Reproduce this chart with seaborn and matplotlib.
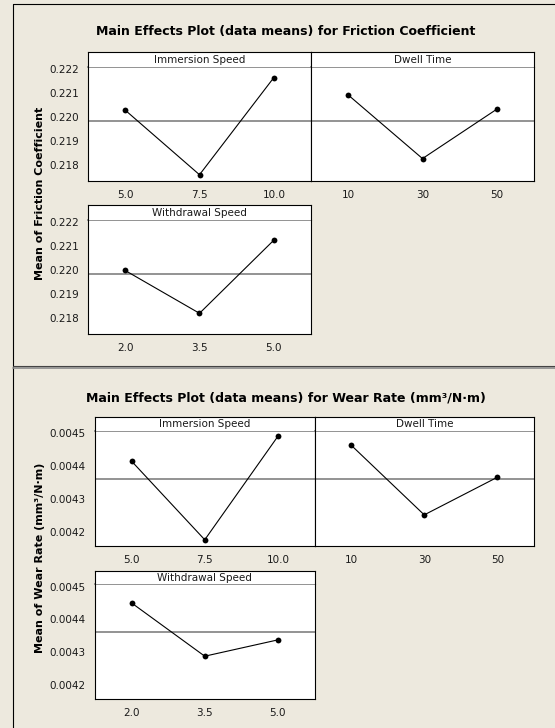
import matplotlib
matplotlib.use("Agg")
import matplotlib.pyplot as plt
from matplotlib.lines import Line2D
import numpy as np
import pandas as pd
import seaborn as sns

# Factor levels and their tick labels
immersion_levels = [5.0, 7.5, 10.0]
dwell_levels = [10, 30, 50]
withdrawal_levels = [2.0, 3.5, 5.0]
immersion_labels = ["5.0", "7.5", "10.0"]
dwell_labels = ["10", "30", "50"]
withdrawal_labels = ["2.0", "3.5", "5.0"]
factor_names = ["Immersion Speed", "Dwell Time", "Withdrawal Speed"]

# Mean friction coefficient at each level
friction_immersion = [0.22029, 0.21761, 0.22164]
friction_dwell = [0.22092, 0.21828, 0.22033]
friction_withdrawal = [0.21999, 0.21821, 0.22125]
friction_ticks = [0.218, 0.219, 0.220, 0.221, 0.222]

# Mean wear rate (mm³/N·m) at each level
wear_immersion = [0.004415, 0.004175, 0.004491]
wear_dwell = [0.004464, 0.004251, 0.004366]
wear_withdrawal = [0.004450, 0.004287, 0.004337]
wear_ticks = [0.0042, 0.0043, 0.0044, 0.0045]

sns.set_style("white")
plt.rcParams["font.family"] = ["DejaVu Sans"]

W, H = 555, 728
BG = "#EDE9DE"

fig = plt.figure(figsize=(W / 100, H / 100), dpi=100, facecolor=BG)


def rect(x0, y0, x1, y1):
    return [x0 / W, 1 - y1 / H, (x1 - x0) / W, (y1 - y0) / H]


def fline(xs, ys, color, lw):
    fig.add_artist(Line2D([x / W for x in xs], [1 - y / H for y in ys],
                          transform=fig.transFigure, color=color, lw=lw))


def panel(name, levels, labels, means, grand, xspan, yspan, ylim, ticks, fmt, show_y):
    x0, x1 = xspan
    s_top, s_bot, d_bot = yspan
    ax = fig.add_axes(rect(x0, s_bot, x1, d_bot))
    ax.set_facecolor("white")
    df = pd.DataFrame({"level": levels, "mean": means})
    ax.axhline(grand, color="#8a8a8a", lw=1.3, zorder=1)
    sns.lineplot(data=df, x="level", y="mean", ax=ax, color="black", lw=0.8,
                 marker="o", markersize=4.2, markeredgewidth=0, sort=False,
                 legend=False, zorder=3)
    span = levels[-1] - levels[0]
    ax.set_xlim(levels[0] - 0.25 * span, levels[-1] + 0.25 * span)
    ax.set_ylim(*ylim)
    ax.set_xticks(levels)
    ax.set_xticklabels(labels)
    ax.set_yticks(ticks)
    ax.set_yticklabels([fmt.format(t) for t in ticks])
    ax.set_xlabel("")
    ax.set_ylabel("")
    ax.tick_params(axis="both", direction="out", length=4, width=0.8,
                   color="black", labelsize=7.5, labelcolor="#1a1a1a", pad=2.5)
    ax.tick_params(axis="x", pad=2.5)
    if not show_y:
        ax.tick_params(axis="y", left=False, labelleft=False)
    for side in ["left", "right", "bottom"]:
        ax.spines[side].set_color("black")
        ax.spines[side].set_linewidth(0.8)
    ax.spines["top"].set_color("#8a8a8a")
    ax.spines["top"].set_linewidth(1.3)

    sax = fig.add_axes(rect(x0, s_top, x1, s_bot))
    sax.set_facecolor("white")
    sax.set_xticks([])
    sax.set_yticks([])
    for side in ["left", "right", "top"]:
        sax.spines[side].set_color("black")
        sax.spines[side].set_linewidth(0.8)
    sax.spines["bottom"].set_visible(False)
    sax.text(0.5, 0.45, name, ha="center", va="center", fontsize=7.5,
             color="#1a1a1a", transform=sax.transAxes)
    return ax


def chart(title, ylabel, title_y, ylabel_y, left, xs_mid, rows, series,
          ylim, ticks, fmt):
    grand = float(np.mean(np.concatenate([np.asarray(s) for s in series])))
    fig.text(286 / W, 1 - title_y / H, title, ha="center", va="center",
             fontsize=9, fontweight="bold", color="black")
    fig.text(40 / W, 1 - ylabel_y / H, ylabel, ha="center", va="center",
             rotation=90, fontsize=8, fontweight="bold", color="black")
    row1, row2 = rows
    panel(factor_names[0], immersion_levels, immersion_labels, series[0], grand,
          (left, xs_mid), row1, ylim, ticks, fmt, True)
    panel(factor_names[1], dwell_levels, dwell_labels, series[1], grand,
          (xs_mid, 534), row1, ylim, ticks, fmt, False)
    panel(factor_names[2], withdrawal_levels, withdrawal_labels, series[2], grand,
          (left, xs_mid), row2, ylim, ticks, fmt, True)


# Friction coefficient chart
chart("Main Effects Plot (data means) for Friction Coefficient",
      "Mean of Friction Coefficient", 31, 193, 88, 311,
      [(52, 66.5, 181), (205, 219.7, 334)],
      [friction_immersion, friction_dwell, friction_withdrawal],
      (0.21735, 0.2221), friction_ticks, "{:.3f}")

# Wear rate chart
chart("Main Effects Plot (data means) for Wear Rate (mm³/N·m)",
      "Mean of Wear Rate (mm³/N·m)", 398, 558, 95, 314.5,
      [(416.7, 430.7, 546), (571, 584, 699)],
      [wear_immersion, wear_dwell, wear_withdrawal],
      (0.004156, 0.004508), wear_ticks, "{:.4f}")

# Graph window borders
fline([13, W], [4, 4], "black", 0.8)
fline([13, 13], [4, H], "black", 0.8)
fline([13, W], [366.3, 366.3], "#444444", 0.8)
fline([13, W], [368.3, 368.3], "#8a8a8a", 1.2)

fig.savefig("out.png", dpi=100, facecolor=BG)
